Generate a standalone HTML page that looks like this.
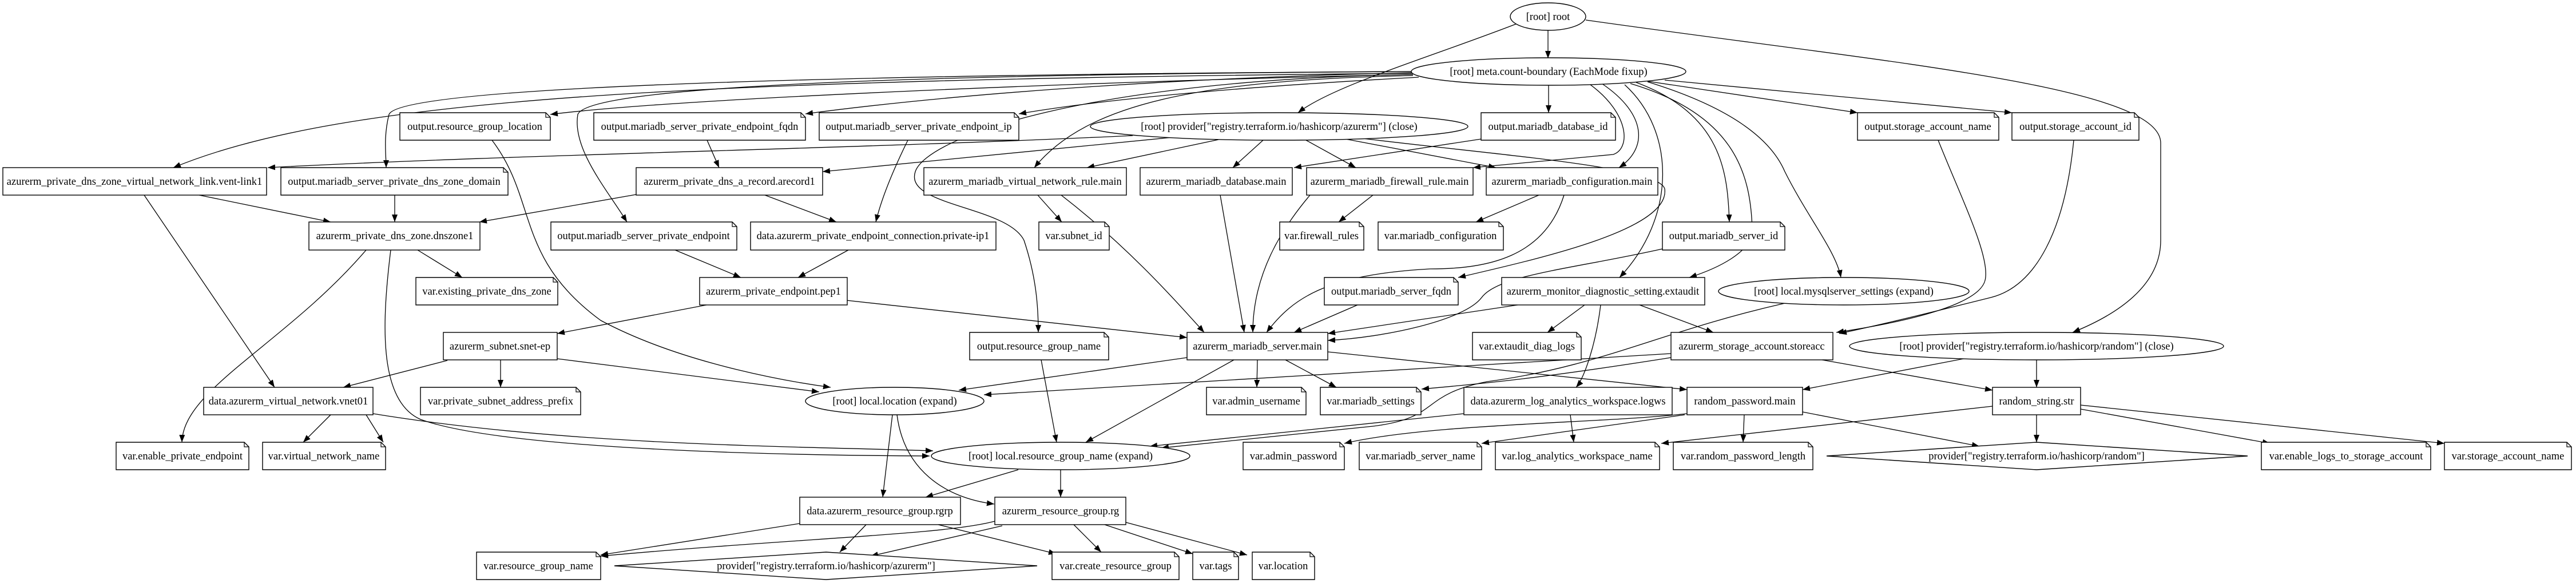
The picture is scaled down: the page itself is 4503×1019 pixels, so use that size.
<!DOCTYPE html>
<html><head><meta charset="utf-8"><style>
html,body{margin:0;padding:0;background:#fff;}
svg{display:block;}
text{font-family:"Liberation Serif","Times New Roman",serif;font-size:18.5px;text-anchor:middle;fill:#000;}
.n{fill:#fff;stroke:#000;stroke-width:1.4;}
.e{fill:none;stroke:#000;stroke-width:1.3;marker-end:url(#a);}
.f{fill:none;stroke:#000;stroke-width:1.2;}
</style></head><body>
<svg width="4503" height="1019" viewBox="0 0 4503 1019" xmlns="http://www.w3.org/2000/svg">
<defs><marker id="a" markerWidth="14" markerHeight="10" refX="13" refY="5" orient="auto" markerUnits="userSpaceOnUse"><path d="M0,0 L13,5 L0,10 z" fill="#000"/></marker></defs>

<!-- edges -->
<path class="e" d="M2706,53 L2706,102"/>
<path class="e" d="M2650,42 C2500,100 2330,150 2269,197"/>
<path class="e" d="M2772,35 C3300,110 3777,150 3777,250 L3777,420 C3777,500 3700,550 3623,581"/>
<path class="e" d="M2470,130 C2000,140 1200,170 962,200"/>
<path class="e" d="M2470,128 C1200,140 600,170 303,293"/>
<path class="e" d="M2467,125 C1500,130 700,150 680,200 C670,240 675,270 675,293"/>
<path class="e" d="M2467,125 C1600,130 1030,150 1010,200 C1000,260 1060,330 1096,388"/>
<path class="e" d="M2470,127 C2100,135 1700,160 1408,199"/>
<path class="e" d="M2480,135 C2200,150 1950,170 1781,199"/>
<path class="e" d="M2470,132 C2100,140 1900,180 1808,293"/>
<path class="e" d="M2470,130 C1900,140 1620,240 1600,300 C1580,360 1760,360 1790,420 C1810,480 1815,530 1815,581"/>
<path class="e" d="M2707,148 L2707,197"/>
<path class="e" d="M2589,243 L2262,293"/>
<path class="e" d="M2780,148 C2850,200 2850,260 2820,270 L2575,293"/>
<path class="e" d="M2800,146 C2880,200 2880,260 2830,293"/>
<path class="e" d="M2860,144 C3010,200 3020,300 3023,388"/>
<path class="e" d="M2840,148 C2930,230 2930,380 2831,485"/>
<path class="e" d="M2850,146 C3030,200 3060,300 3063,400 C3066,440 3000,470 2953,485"/>
<path class="e" d="M2880,143 C3000,180 3090,230 3120,300 C3160,380 3210,440 3218,485"/>
<path class="e" d="M2880,142 L3247,197"/>
<path class="e" d="M2910,140 L3517,197"/>
<path class="e" d="M2350,238 C2600,270 2900,290 2910,330 C2920,400 2700,450 2549,485"/>
<path class="e" d="M1980,237 C1500,260 900,270 468,293"/>
<path class="e" d="M2050,240 L1438,300"/>
<path class="e" d="M2130,244 L1900,293"/>
<path class="e" d="M2208,245 L2155,293"/>
<path class="e" d="M2283,245 L2370,293"/>
<path class="e" d="M2352,243 L2615,293"/>
<path class="e" d="M1236,245 L1257,293"/>
<path class="e" d="M1587,245 C1560,300 1540,350 1531,388"/>
<path class="e" d="M1112,340 L838,388"/>
<path class="e" d="M348,341 L578,388"/>
<path class="e" d="M690,341 L690,388"/>
<path class="e" d="M1337,341 L1462,388"/>
<path class="e" d="M252,341 L480,677"/>
<path class="e" d="M730,437 L808,485"/>
<path class="e" d="M640,437 C500,600 320,680 318,773"/>
<path class="e" d="M683,437 C668,560 660,700 735,733 C850,775 1200,795 1625,797"/>
<path class="e" d="M860,245 C940,350 900,450 1050,560 C1200,640 1400,670 1452,677"/>
<path class="e" d="M1180,437 L1295,485"/>
<path class="e" d="M1483,437 L1395,485"/>
<path class="e" d="M1814,341 L1856,388"/>
<path class="e" d="M1855,341 C1970,430 2050,520 2105,581"/>
<path class="e" d="M2133,341 L2175,581"/>
<path class="e" d="M2290,341 C2240,400 2190,480 2190,581"/>
<path class="e" d="M2734,341 C2700,450 2600,470 2500,470 C2320,480 2260,520 2214,581"/>
<path class="e" d="M2400,341 L2340,388"/>
<path class="e" d="M2690,341 L2580,388"/>
<path class="e" d="M2906,435 C2750,470 2620,480 2590,520 C2560,560 2420,590 2321,595"/>
<path class="e" d="M2373,533 L2262,581"/>
<path class="e" d="M2653,533 L2321,583"/>
<path class="e" d="M2770,533 L2705,581"/>
<path class="e" d="M2866,533 L2995,581"/>
<path class="e" d="M2798,533 C2790,600 2770,660 2755,677"/>
<path class="e" d="M3120,530 C2900,580 2800,640 2600,667 C2480,690 2520,730 2400,745 C2250,760 2100,775 2030,783"/>
<path class="e" d="M2921,625 C2700,660 2600,670 2485,680"/>
<path class="e" d="M2921,618 L1720,690"/>
<path class="e" d="M3185,629 L3483,682"/>
<path class="e" d="M3443,625 L3151,681"/>
<path class="e" d="M3560,629 L3560,677"/>
<path class="e" d="M3388,245 C3430,350 3480,450 3470,490 C3460,530 3350,560 3210,581"/>
<path class="e" d="M3625,245 C3610,400 3560,500 3480,520 C3400,540 3300,565 3215,583"/>
<path class="e" d="M2075,625 L1676,682"/>
<path class="e" d="M2157,629 L1898,773"/>
<path class="e" d="M2198,629 L2197,677"/>
<path class="e" d="M2247,629 L2336,677"/>
<path class="e" d="M2321,615 L2949,681"/>
<path class="e" d="M2949,723 C2800,740 2500,740 2350,775"/>
<path class="e" d="M2945,725 L2590,775"/>
<path class="e" d="M3049,725 L3047,773"/>
<path class="e" d="M3151,720 L3460,780"/>
<path class="e" d="M3483,710 L2904,775"/>
<path class="e" d="M3560,725 L3560,773"/>
<path class="e" d="M3637,715 L3968,775"/>
<path class="e" d="M3637,708 L4273,775"/>
<path class="e" d="M2745,725 L2751,773"/>
<path class="e" d="M2559,723 L2010,780"/>
<path class="e" d="M1560,725 L1543,869"/>
<path class="e" d="M1568,725 C1580,820 1650,870 1738,881"/>
<path class="e" d="M1780,821 L1618,869"/>
<path class="e" d="M1854,821 L1854,869"/>
<path class="e" d="M1820,629 L1847,773"/>
<path class="e" d="M652,723 C1000,780 1400,780 1631,788"/>
<path class="e" d="M578,725 L530,773"/>
<path class="e" d="M640,725 L670,773"/>
<path class="e" d="M782,630 L600,677"/>
<path class="e" d="M875,629 L875,677"/>
<path class="e" d="M974,627 L1432,685"/>
<path class="e" d="M1235,533 L974,583"/>
<path class="e" d="M1480,525 L2075,590"/>
<path class="e" d="M1398,915 L1050,970"/>
<path class="e" d="M1514,917 L1468,965"/>
<path class="e" d="M1640,917 L1846,968"/>
<path class="e" d="M1739,911 C1650,935 1400,940 1050,972"/>
<path class="e" d="M1752,919 L1522,972"/>
<path class="e" d="M1877,917 L1925,965"/>
<path class="e" d="M1931,917 L2085,968"/>
<path class="e" d="M1968,913 L2180,970"/>

<!-- ellipses -->
<ellipse class="n" cx="2706" cy="29" rx="66" ry="24"/><text x="2706" y="35">[root] root</text>
<ellipse class="n" cx="2707" cy="125" rx="240" ry="24"/><text x="2707" y="131">[root] meta.count-boundary (EachMode fixup)</text>
<ellipse class="n" cx="2236" cy="221" rx="330" ry="24"/><text x="2236" y="227">[root] provider["registry.terraform.io/hashicorp/azurerm"] (close)</text>
<ellipse class="n" cx="3223" cy="509" rx="219" ry="24"/><text x="3223" y="515">[root] local.mysqlserver_settings (expand)</text>
<ellipse class="n" cx="3560" cy="605" rx="327" ry="24"/><text x="3560" y="611">[root] provider["registry.terraform.io/hashicorp/random"] (close)</text>
<ellipse class="n" cx="1564" cy="701" rx="156" ry="24"/><text x="1564" y="707">[root] local.location (expand)</text>
<ellipse class="n" cx="1854" cy="797" rx="226" ry="24"/><text x="1854" y="803">[root] local.resource_group_name (expand)</text>

<!-- diamonds -->
<polygon class="n" points="1444,965 1813,989 1444,1013 1074,989"/><text x="1444" y="995">provider["registry.terraform.io/hashicorp/azurerm"]</text>
<polygon class="n" points="3560,773 3929,797 3560,821 3193,797"/><text x="3560" y="803">provider["registry.terraform.io/hashicorp/random"]</text>

<!-- boxes -->
<rect class="n" x="5" y="293" width="461" height="48"/><text x="235" y="323">azurerm_private_dns_zone_virtual_network_link.vent-link1</text>
<rect class="n" x="1112" y="293" width="326" height="48"/><text x="1275" y="323">azurerm_private_dns_a_record.arecord1</text>
<rect class="n" x="1615" y="293" width="354" height="48"/><text x="1792" y="323">azurerm_mariadb_virtual_network_rule.main</text>
<rect class="n" x="1993" y="293" width="266" height="48"/><text x="2126" y="323">azurerm_mariadb_database.main</text>
<rect class="n" x="2284" y="293" width="291" height="48"/><text x="2429" y="323">azurerm_mariadb_firewall_rule.main</text>
<rect class="n" x="2598" y="293" width="300" height="48"/><text x="2748" y="323">azurerm_mariadb_configuration.main</text>
<rect class="n" x="540" y="388" width="299" height="49"/><text x="690" y="418">azurerm_private_dns_zone.dnszone1</text>
<rect class="n" x="1312" y="388" width="429" height="49"/><text x="1526" y="418">data.azurerm_private_endpoint_connection.private-ip1</text>
<rect class="n" x="1223" y="485" width="258" height="48"/><text x="1352" y="515">azurerm_private_endpoint.pep1</text>
<rect class="n" x="2625" y="485" width="355" height="48"/><text x="2802" y="515">azurerm_monitor_diagnostic_setting.extaudit</text>
<rect class="n" x="775" y="581" width="199" height="48"/><text x="874" y="611">azurerm_subnet.snet-ep</text>
<rect class="n" x="2075" y="581" width="246" height="48"/><text x="2198" y="611">azurerm_mariadb_server.main</text>
<rect class="n" x="2921" y="581" width="283" height="48"/><text x="3062" y="611">azurerm_storage_account.storeacc</text>
<rect class="n" x="356" y="677" width="296" height="48"/><text x="504" y="707">data.azurerm_virtual_network.vnet01</text>
<rect class="n" x="2559" y="677" width="364" height="48"/><text x="2741" y="707">data.azurerm_log_analytics_workspace.logws</text>
<rect class="n" x="2949" y="677" width="202" height="48"/><text x="3050" y="707">random_password.main</text>
<rect class="n" x="3483" y="677" width="154" height="48"/><text x="3560" y="707">random_string.str</text>
<rect class="n" x="1398" y="869" width="281" height="48"/><text x="1538" y="899">data.azurerm_resource_group.rgrp</text>
<rect class="n" x="1739" y="869" width="229" height="48"/><text x="1854" y="899">azurerm_resource_group.rg</text>

<!-- notes -->
<g>
<polygon class="n" points="699,197 954,197 962,205 962,245 699,245"/><polyline class="f" points="954,197 954,205 962,205"/><text x="830" y="227">output.resource_group_location</text>
<polygon class="n" points="1038,197 1400,197 1408,205 1408,245 1038,245"/><polyline class="f" points="1400,197 1400,205 1408,205"/><text x="1223" y="227">output.mariadb_server_private_endpoint_fqdn</text>
<polygon class="n" points="1432,197 1773,197 1781,205 1781,245 1432,245"/><polyline class="f" points="1773,197 1773,205 1781,205"/><text x="1606" y="227">output.mariadb_server_private_endpoint_ip</text>
<polygon class="n" points="2589,197 2816,197 2824,205 2824,245 2589,245"/><polyline class="f" points="2816,197 2816,205 2824,205"/><text x="2706" y="227">output.mariadb_database_id</text>
<polygon class="n" points="3247,197 3486,197 3494,205 3494,245 3247,245"/><polyline class="f" points="3486,197 3486,205 3494,205"/><text x="3370" y="227">output.storage_account_name</text>
<polygon class="n" points="3517,197 3731,197 3739,205 3739,245 3517,245"/><polyline class="f" points="3731,197 3731,205 3739,205"/><text x="3628" y="227">output.storage_account_id</text>
<polygon class="n" points="491,293 880,293 888,301 888,341 491,341"/><polyline class="f" points="880,293 880,301 888,301"/><text x="689" y="323">output.mariadb_server_private_dns_zone_domain</text>
<polygon class="n" points="963,388 1280,388 1288,396 1288,437 963,437"/><polyline class="f" points="1280,388 1280,396 1288,396"/><text x="1125" y="418">output.mariadb_server_private_endpoint</text>
<polygon class="n" points="1816,388 1931,388 1939,396 1939,437 1816,437"/><polyline class="f" points="1931,388 1931,396 1939,396"/><text x="1877" y="418">var.subnet_id</text>
<polygon class="n" points="2237,388 2376,388 2384,396 2384,437 2237,437"/><polyline class="f" points="2376,388 2376,396 2384,396"/><text x="2310" y="418">var.firewall_rules</text>
<polygon class="n" points="2409,388 2620,388 2628,396 2628,437 2409,437"/><polyline class="f" points="2620,388 2620,396 2628,396"/><text x="2518" y="418">var.mariadb_configuration</text>
<polygon class="n" points="2906,388 3112,388 3120,396 3120,437 2906,437"/><polyline class="f" points="3112,388 3112,396 3120,396"/><text x="3013" y="418">output.mariadb_server_id</text>
<polygon class="n" points="727,485 967,485 975,493 975,533 727,533"/><polyline class="f" points="967,485 967,493 975,493"/><text x="851" y="515">var.existing_private_dns_zone</text>
<polygon class="n" points="2315,485 2541,485 2549,493 2549,533 2315,533"/><polyline class="f" points="2541,485 2541,493 2549,493"/><text x="2432" y="515">output.mariadb_server_fqdn</text>
<polygon class="n" points="1695,581 1930,581 1938,589 1938,629 1695,629"/><polyline class="f" points="1930,581 1930,589 1938,589"/><text x="1816" y="611">output.resource_group_name</text>
<polygon class="n" points="2574,581 2756,581 2764,589 2764,629 2574,629"/><polyline class="f" points="2756,581 2756,589 2764,589"/><text x="2669" y="611">var.extaudit_diag_logs</text>
<polygon class="n" points="735,677 1007,677 1015,685 1015,725 735,725"/><polyline class="f" points="1007,677 1007,685 1015,685"/><text x="875" y="707">var.private_subnet_address_prefix</text>
<polygon class="n" points="2109,677 2275,677 2283,685 2283,725 2109,725"/><polyline class="f" points="2275,677 2275,685 2283,685"/><text x="2196" y="707">var.admin_username</text>
<polygon class="n" points="2308,677 2476,677 2484,685 2484,725 2308,725"/><polyline class="f" points="2476,677 2476,685 2484,685"/><text x="2396" y="707">var.mariadb_settings</text>
<polygon class="n" points="203,773 427,773 435,781 435,821 203,821"/><polyline class="f" points="427,773 427,781 435,781"/><text x="319" y="803">var.enable_private_endpoint</text>
<polygon class="n" points="459,773 666,773 674,781 674,821 459,821"/><polyline class="f" points="666,773 666,781 674,781"/><text x="566" y="803">var.virtual_network_name</text>
<polygon class="n" points="2173,773 2342,773 2350,781 2350,821 2173,821"/><polyline class="f" points="2342,773 2342,781 2350,781"/><text x="2261" y="803">var.admin_password</text>
<polygon class="n" points="2376,773 2582,773 2590,781 2590,821 2376,821"/><polyline class="f" points="2582,773 2582,781 2590,781"/><text x="2483" y="803">var.mariadb_server_name</text>
<polygon class="n" points="2614,773 2893,773 2901,781 2901,821 2614,821"/><polyline class="f" points="2893,773 2893,781 2901,781"/><text x="2757" y="803">var.log_analytics_workspace_name</text>
<polygon class="n" points="2925,773 3161,773 3169,781 3169,821 2925,821"/><polyline class="f" points="3161,773 3161,781 3169,781"/><text x="3047" y="803">var.random_password_length</text>
<polygon class="n" points="3953,773 4241,773 4249,781 4249,821 3953,821"/><polyline class="f" points="4241,773 4241,781 4249,781"/><text x="4101" y="803">var.enable_logs_to_storage_account</text>
<polygon class="n" points="4273,773 4487,773 4495,781 4495,821 4273,821"/><polyline class="f" points="4487,773 4487,781 4495,781"/><text x="4384" y="803">var.storage_account_name</text>
<polygon class="n" points="833,965 1042,965 1050,973 1050,1013 833,1013"/><polyline class="f" points="1042,965 1042,973 1050,973"/><text x="941" y="995">var.resource_group_name</text>
<polygon class="n" points="1839,965 2053,965 2061,973 2061,1013 1839,1013"/><polyline class="f" points="2053,965 2053,973 2061,973"/><text x="1950" y="995">var.create_resource_group</text>
<polygon class="n" points="2085,965 2157,965 2165,973 2165,1013 2085,1013"/><polyline class="f" points="2157,965 2157,973 2165,973"/><text x="2125" y="995">var.tags</text>
<polygon class="n" points="2189,965 2290,965 2298,973 2298,1013 2189,1013"/><polyline class="f" points="2290,965 2290,973 2298,973"/><text x="2243" y="995">var.location</text>
</g>
</svg>
</body></html>
